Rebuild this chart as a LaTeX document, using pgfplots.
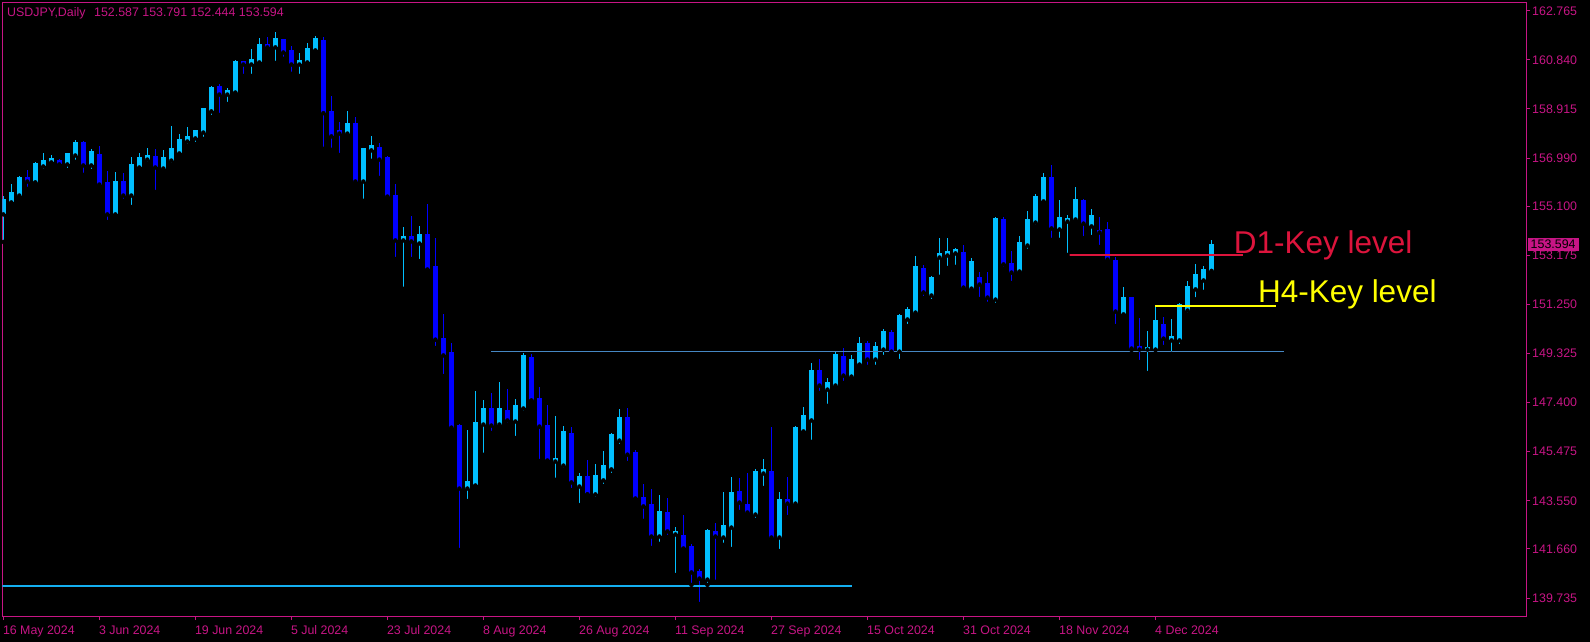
\documentclass[border=0pt]{standalone}
\usepackage{pgfplots}
\pgfplotsset{compat=1.18}
\usepackage{pgfplotstable}
\usepackage{fontspec}
\setmainfont{Liberation Sans}
\definecolor{mtpink}{RGB}{199,21,133}
\definecolor{bull}{RGB}{0,191,255}
\definecolor{bear}{RGB}{0,0,255}
\definecolor{d1red}{RGB}{220,20,60}
\definecolor{hyel}{RGB}{255,255,0}
\definecolor{midline}{RGB}{70,135,195}
\definecolor{lowline}{RGB}{20,175,240}
\newcommand{\lbl}{\fontsize{12.4bp}{14bp}\selectfont}

\pgfplotstableread{
i o h l c
0 154.80 155.50 153.70 155.35
1 155.27 155.97 155.19 155.62
2 155.54 156.29 155.42 156.21
3 156.21 156.52 155.78 156.09
4 156.05 156.84 156.03 156.76
5 156.68 157.19 156.48 156.88
6 156.84 157.11 156.76 156.95
7 156.88 156.95 156.60 156.76
8 156.76 157.19 156.52 157.15
9 157.11 157.70 156.84 157.58
10 157.58 157.66 156.33 156.72
11 156.72 157.35 156.48 157.23
12 157.11 157.46 155.90 155.97
13 156.01 156.48 154.48 154.80
14 154.80 156.44 154.72 156.05
15 156.05 156.41 155.31 155.54
16 155.54 157.03 155.07 156.72
17 156.64 157.19 156.56 156.99
18 156.95 157.39 156.76 157.07
19 157.03 157.35 155.66 156.64
20 156.60 157.31 156.52 156.99
21 156.91 158.25 156.72 157.35
22 157.19 157.93 157.11 157.70
23 157.66 158.21 157.46 157.82
24 157.78 158.09 157.54 158.05
25 158.01 158.91 157.74 158.91
26 158.84 159.82 158.60 159.74
27 159.78 159.89 158.68 159.50
28 159.50 159.74 159.11 159.62
29 159.58 160.84 159.54 160.76
30 160.76 160.80 160.21 160.68
31 160.68 161.27 160.21 160.84
32 160.76 161.70 160.64 161.42
33 161.42 161.74 161.23 161.35
34 161.35 161.93 160.72 161.66
35 161.62 161.66 160.88 161.15
36 161.19 161.38 160.29 160.68
37 160.68 161.11 160.21 160.80
38 160.76 161.50 160.68 161.27
39 161.23 161.78 161.19 161.66
40 161.60 161.75 157.35 158.77
41 158.80 159.42 157.31 157.86
42 158.05 158.40 157.11 157.97
43 157.97 158.84 157.89 158.33
44 158.33 158.60 156.01 156.09
45 156.09 157.38 155.31 157.35
46 157.31 157.86 156.88 157.46
47 157.39 157.58 156.21 156.95
48 156.99 157.07 155.45 155.50
49 155.50 155.97 153.03 153.78
50 153.78 154.29 151.86 153.89
51 153.89 154.72 153.03 153.74
52 153.66 154.33 152.95 153.97
53 153.97 155.19 152.60 152.64
54 152.72 153.86 149.54 149.89
55 149.89 150.88 148.44 149.27
56 149.35 149.74 146.37 146.44
57 146.48 146.56 141.62 144.05
58 144.05 146.33 143.54 144.29
59 144.17 147.86 144.13 146.60
60 146.56 147.50 145.35 147.15
61 147.15 147.78 146.21 146.52
62 146.56 148.21 146.40 147.15
63 147.07 147.93 146.52 146.72
64 146.68 147.54 146.01 147.27
65 147.19 149.35 146.99 149.23
66 149.15 149.31 147.48 147.50
67 147.54 148.01 145.11 146.48
68 146.48 147.31 145.11 145.15
69 145.11 146.88 144.37 145.19
70 144.95 146.48 144.76 146.25
71 146.17 146.44 143.97 144.29
72 144.13 144.64 143.38 144.48
73 144.48 145.15 143.80 143.82
74 143.82 144.99 143.62 144.52
75 144.37 145.50 144.13 144.91
76 144.80 146.21 144.56 146.13
77 145.93 147.15 145.70 146.80
78 146.80 147.19 145.03 145.38
79 145.42 145.54 143.62 143.66
80 143.66 144.21 142.76 143.35
81 143.38 144.01 141.70 142.17
82 142.17 143.78 141.86 143.11
83 143.07 143.66 142.13 142.37
84 142.25 142.52 140.64 142.33
85 142.17 142.99 141.66 141.70
86 141.74 141.86 140.25 140.76
87 140.76 140.88 139.50 140.52
88 140.48 142.44 140.25 142.37
89 142.33 142.68 140.37 142.17
90 142.13 143.89 141.82 142.56
91 142.52 144.48 141.66 143.86
92 143.89 144.44 143.11 143.50
93 143.38 144.64 143.03 143.11
94 143.03 144.80 142.80 144.68
95 144.64 145.19 144.05 144.76
96 144.68 146.44 142.01 142.13
97 142.13 143.89 141.58 143.58
98 143.58 144.48 142.91 143.46
99 143.46 146.48 143.35 146.40
100 146.29 147.23 146.17 146.88
101 146.72 148.95 145.86 148.64
102 148.64 149.11 147.78 148.09
103 147.93 148.37 147.27 148.17
104 148.09 149.39 147.93 149.27
105 149.19 149.54 148.17 148.48
106 148.44 149.27 148.33 149.07
107 148.91 149.97 148.88 149.70
108 149.70 149.82 148.80 149.11
109 149.11 149.78 148.80 149.58
110 149.50 150.29 149.19 150.17
111 150.13 150.25 149.31 149.42
112 149.42 150.88 149.03 150.80
113 150.68 151.15 150.40 151.03
114 150.95 153.15 150.88 152.72
115 152.64 152.80 151.50 151.74
116 151.62 152.37 151.38 152.29
117 153.11 153.86 152.33 153.23
118 153.19 153.86 152.68 153.31
119 153.27 153.46 152.72 153.39
120 153.27 153.58 151.78 151.93
121 151.89 153.07 151.74 152.91
122 152.29 152.52 151.46 152.05
123 152.05 152.52 151.27 151.54
124 151.46 154.68 151.23 154.60
125 154.56 154.68 152.64 152.84
126 152.84 153.35 152.09 152.52
127 152.56 153.93 152.52 153.66
128 153.58 154.91 153.35 154.56
129 154.48 155.58 154.29 155.46
130 155.31 156.40 155.19 156.21
131 156.21 156.72 153.78 154.25
132 154.21 155.35 153.78 154.64
133 154.52 154.76 153.19 154.60
134 154.60 155.86 154.44 155.35
135 155.31 155.38 153.85 154.44
136 154.33 154.99 153.89 154.72
137 154.13 154.68 153.50 154.09
138 154.17 154.48 152.91 153.03
139 152.95 153.12 150.40 150.99
140 150.88 151.93 150.80 151.50
141 151.50 151.55 149.46 149.54
142 149.58 150.72 148.99 149.50
143 149.50 150.21 148.56 149.54
144 149.50 151.20 149.46 150.60
145 150.44 150.76 149.58 149.93
146 149.86 150.68 149.31 149.97
147 149.86 151.31 149.62 151.23
148 151.03 152.17 150.84 151.93
149 151.86 152.84 151.45 152.40
150 152.21 152.76 151.74 152.60
151 152.587 153.791 152.444 153.594
}\candles

\begin{document}
\begin{tikzpicture}
\path[use as bounding box, fill=black] (0,0) rectangle (1590bp,642bp);
\begin{axis}[
  at={(2.3bp,26bp)}, anchor=south west,
  scale only axis, width=1523.7bp, height=613.7bp,
  xmin=-0.125, xmax=190.3, ymin=139.032, ymax=163.098,
  axis line style={mtpink, line width=1bp},
  tick style={mtpink, line width=1bp},
  tick align=outside, major tick length=4bp,
  ytick pos=right, yticklabel pos=right,
  xtick pos=bottom,
  xtick={0,12,...,144},
  xticklabels={16 May 2024, 3 Jun 2024, 19 Jun 2024, 5 Jul 2024, 23 Jul 2024, 8 Aug 2024, 26 Aug 2024, 11 Sep 2024, 27 Sep 2024, 15 Oct 2024, 31 Oct 2024, 18 Nov 2024, 4 Dec 2024},
  ytick={139.735,141.660,143.550,145.475,147.400,149.325,151.250,153.175,155.100,156.990,158.915,160.840,162.765},
  yticklabels={139.735,141.660,143.550,145.475,147.400,149.325,151.250,153.175,155.100,156.990,158.915,160.840,162.765},
  ticklabel style={text=mtpink, font=\lbl},
  xticklabel style={anchor=north west, inner sep=0pt, xshift=-0.5bp, yshift=-5.5bp},
  yticklabel style={anchor=west, inner sep=0pt, xshift=2bp},
]
% wicks
\addplot[only marks, mark=none, forget plot,
  restrict expr to domain={\thisrow{c}-\thisrow{o}}{0:100},
  error bars/.cd, y dir=plus, y explicit, error mark=none,
  error bar style={color=bull, line width=1bp}]
  table[x=i, y=l, y error expr={\thisrow{h}-\thisrow{l}}] {\candles};
\addplot[only marks, mark=none, forget plot,
  restrict expr to domain={\thisrow{o}-\thisrow{c}}{0.00001:100},
  error bars/.cd, y dir=plus, y explicit, error mark=none,
  error bar style={color=bear, line width=1bp}]
  table[x=i, y=l, y error expr={\thisrow{h}-\thisrow{l}}] {\candles};
% bodies
\addplot[only marks, mark=none, forget plot,
  restrict expr to domain={\thisrow{c}-\thisrow{o}}{0:100},
  error bars/.cd, y dir=plus, y explicit, error mark=none,
  error bar style={color=bull, line width=5bp}]
  table[x=i, y expr={min(\thisrow{o},\thisrow{c})-0.02}, y error expr={abs(\thisrow{c}-\thisrow{o})+0.05}] {\candles};
\addplot[only marks, mark=none, forget plot,
  restrict expr to domain={\thisrow{o}-\thisrow{c}}{0.00001:100},
  error bars/.cd, y dir=plus, y explicit, error mark=none,
  error bar style={color=bear, line width=5bp}]
  table[x=i, y expr={min(\thisrow{o},\thisrow{c})-0.02}, y error expr={abs(\thisrow{c}-\thisrow{o})+0.05}] {\candles};
% key levels
\addplot[lowline, line width=2bp] coordinates {(-0.2,140.22) (106.1,140.22)};
\addplot[midline, line width=1.6bp] coordinates {(60.96,149.40) (160.1,149.40)};
\addplot[d1red, line width=1.6bp] coordinates {(132.96,153.20) (154.96,153.20)};
\addplot[hyel, line width=1.6bp] coordinates {(143.96,151.20) (159.1,151.20)};
\node[anchor=base west, inner sep=0pt, text=d1red, font=\fontsize{31.5bp}{33bp}\selectfont] at (axis cs:153.77,153.255) {D1-Key level};
\node[anchor=base west, inner sep=0pt, text=hyel, font=\fontsize{31.5bp}{33bp}\selectfont] at (axis cs:156.78,151.318) {H4-Key level};
\coordinate (cp) at (axis cs:190.3,153.594);
\end{axis}
\node[anchor=west, fill=mtpink, text=black, font=\lbl, inner xsep=3bp, inner ysep=0.5bp, minimum height=12.5bp] at ([xshift=1.5bp]cp) {153.594};
\node[anchor=west, inner sep=0pt, text=mtpink, font=\lbl] at (7bp,629bp) {USDJPY,Daily\hspace{0.7em}152.587 153.791 152.444 153.594};
\end{tikzpicture}
\end{document}
